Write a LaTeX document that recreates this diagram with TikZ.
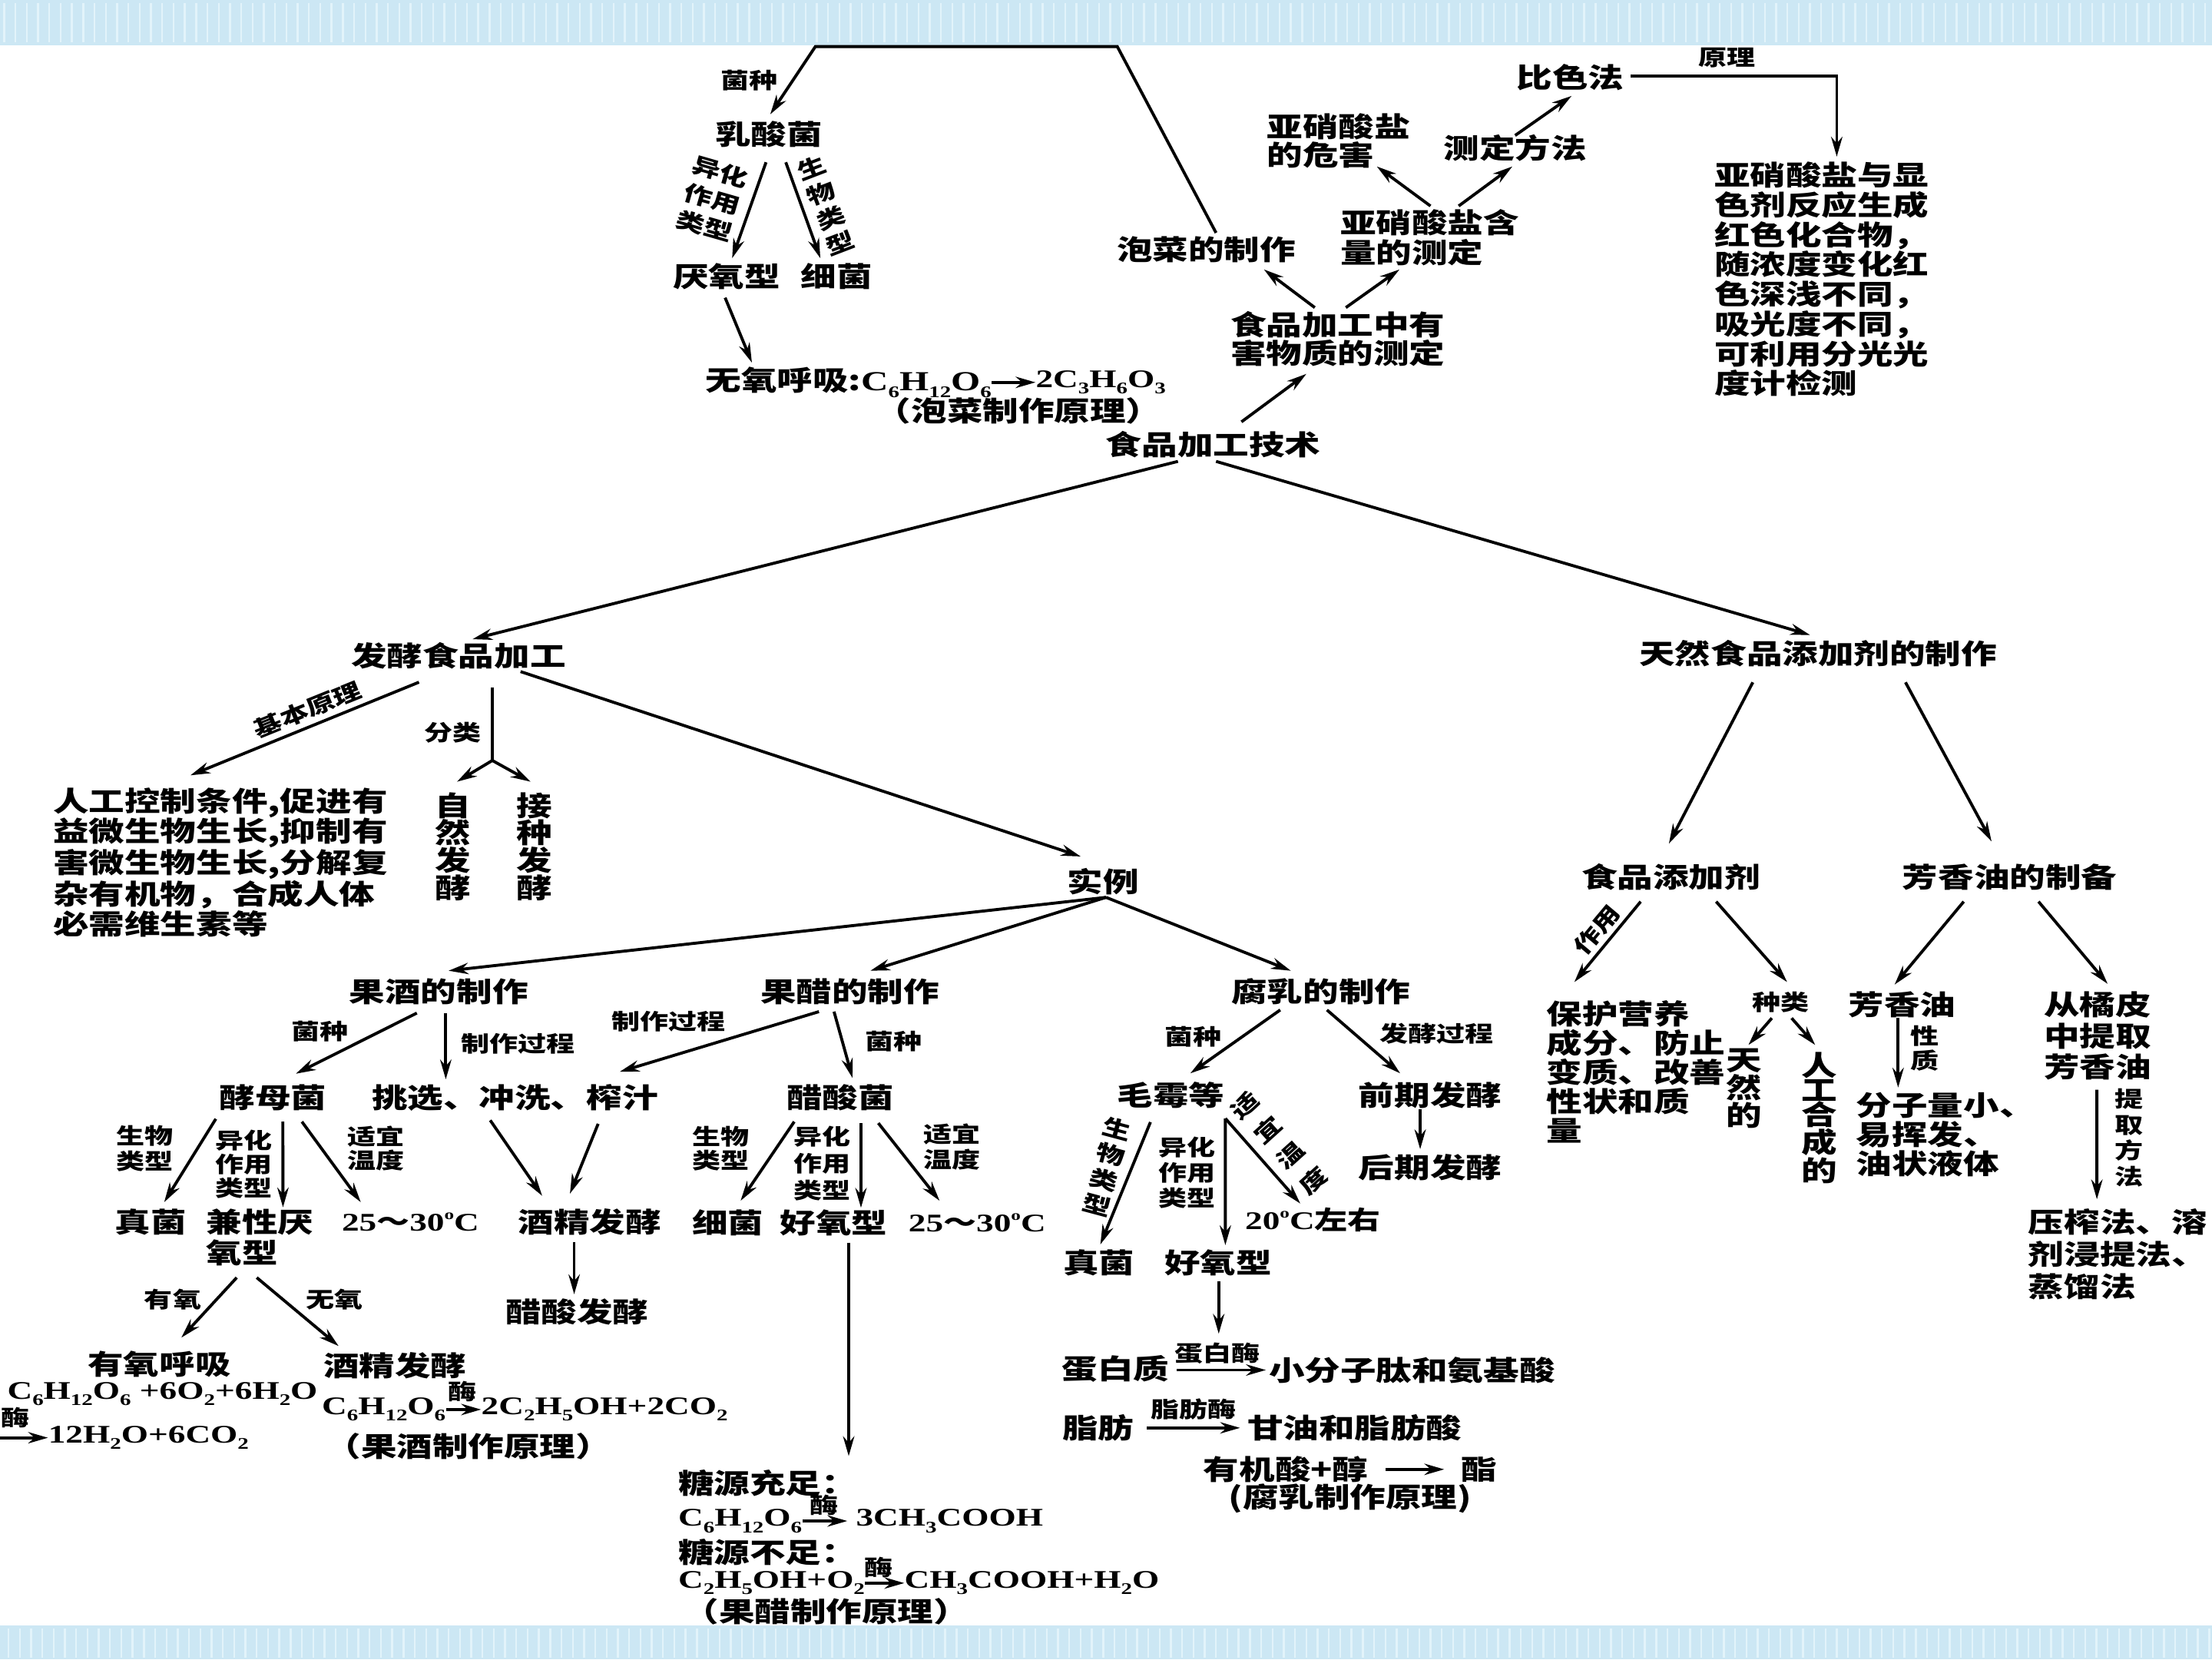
\documentclass[tikz,border=0pt]{standalone}
\usepackage{fontspec}
\setmainfont{Noto Sans CJK SC}[FakeStretch=1.3]
\newfontfamily\lat{Liberation Serif}[FakeStretch=1.37]
\usetikzlibrary{arrows.meta,calc}
\definecolor{band}{RGB}{204,231,244}
\definecolor{bandlt}{RGB}{226,243,250}
\newcommand\dn[1]{\raisebox{-0.25em}{\fontsize{11.5}{11.5}\selectfont #1}}
\newcommand\degC{\raisebox{0.45em}{\fontsize{10}{10}\selectfont o}C}
\tikzset{
  m/.style={font=\bfseries\fontsize{19.5}{#1}\selectfont, inner sep=0pt, align=left},
  m/.default=21,
  s/.style={font=\bfseries\fontsize{15.5}{#1}\selectfont, inner sep=0pt, align=center},
  s/.default=17,
  lt/.style={font=\lat\bfseries\fontsize{18}{21}\selectfont, inner sep=0pt},
  arr/.style={line width=2.1pt, -{Stealth[length=14pt,width=8pt]}},
  ln/.style={line width=2.1pt},
  streak/.style={line width=1.3pt, bandlt},
}
\begin{document}
\begin{tikzpicture}[x=1pt,y=-1pt]
\useasboundingbox (0,0) rectangle (1568,1176);
\fill[white] (0,0) rectangle (1568,1176);
\fill[band] (0,0) rectangle (1568,32);
\fill[band] (0,1152) rectangle (1568,1176);
\foreach \i in {3,11,...,1563} {
  \draw[streak] (\i,2) -- (\i,30);
  \draw[streak] (\i+3,1154) -- (\i+3,1175);
}

% ---------- top left ----------
\node[s] (jz1) at (531,57) {菌种};
\node[m] (rsj) at (545,95) {乳酸菌};
\node[s=20, rotate=-16] (yh1) at (505,141) {异化\\作用\\类型};
\node[s=19, rotate=21] (sw1) at (585.5,145.5) {生\\物\\类\\型};
\node[m] (yx) at (515,196) {厌氧型};
\node[m] (xj1) at (593,196) {细菌};
\node[m, anchor=east] (wy) at (703,271) {无氧呼吸:{\lat C\dn{6}H\dn{12}O\dn{6}}};
\node[lt, anchor=west] (wyr) at (734,271) {2C\dn{3}H\dn{6}O\dn{3}};
\node[m] (pcyl) at (722,291) {（泡菜制作原理）};

% ---------- top right ----------
\node[m] (pczz) at (855,177) {泡菜的制作};
\node[m=21, anchor=west] (yxhl) at (950,168.5) {亚硝酸盐含\\量的测定};
\node[m=20, anchor=west] (spjg) at (872,240) {食品加工中有\\害物质的测定};
\node[m=20, anchor=west] (yxwh) at (898,100) {亚硝酸盐\\的危害};
\node[m] (cdff) at (1074,105) {测定方法};
\node[m] (bsf) at (1113,55) {比色法};
\node[s] (yl1) at (1224,41) {原理};
\node[m=21.1, anchor=west] (yxbox) at (1215,198) {亚硝酸盐与显\\色剂反应生成\\红色化合物，\\随浓度变化红\\色深浅不同，\\吸光度不同，\\可利用分光光\\度计检测};
\node[m] (spjgjs) at (860,315) {食品加工技术};

\coordinate (ctl) at (578,33);
\coordinate (ctr) at (792,33);
\draw[arr] ([shift={(7,-12)}]pczz.center) -- (ctr) -- (ctl) -- ([shift={(1,-14)}]rsj.center);
\draw[arr] ([shift={(-2,20)}]rsj.center) -- ([shift={(4,-13)}]yx.center);
\draw[arr] ([shift={(12,20)}]rsj.center) -- ([shift={(-11.5,-13)}]xj1.center);
\draw[arr] ([shift={(-1,15)}]yx.center) -- ([shift={(-170,-14)}]wy.east);
\draw[arr] (wy.east) -- (wyr.west);
\draw[arr] ([shift={(20,-16)}]spjgjs.center) -- ([shift={(54,25)}]spjg.west);
\draw[arr] ([shift={(60,-22)}]spjg.west) -- ([shift={(41,14)}]pczz.center);
\draw[arr] ([shift={(82,-22)}]spjg.west) -- ([shift={(42,22.5)}]yxhl.west);
\draw[arr] ([shift={(64,-22.5)}]yxhl.west) -- ([shift={(78,18)}]yxwh.west);
\draw[arr] ([shift={(84,-22.5)}]yxhl.west) -- ([shift={(-2,13)}]cdff.center);
\draw[arr] ([shift={(0,-9)}]cdff.center) -- ([shift={(1,13)}]bsf.center);
\draw[arr] ([shift={(43,-1)}]bsf.center) -| ([shift={(87,-87)}]yxbox.west);

% ---------- middle ----------
\node[m] (fx) at (325,465) {发酵食品加工};
\node[m] (trtj) at (1288.8,463) {天然食品添加剂的制作};
\draw[arr] ([shift={(-25,12)}]spjgjs.center) -- ([shift={(10,-12)}]fx.center);
\draw[arr] ([shift={(2,12)}]spjgjs.center) -- ([shift={(-5.8,-13)}]trtj.center);

\node[m=21.2, anchor=west] (rgkz) at (37.5,611.5) {人工控制条件,促进有\\益微生物生长,抑制有\\害微生物生长,分解复\\杂有机物，合成人体\\必需维生素等};
\node[s, rotate=22] (jbyl) at (218,503) {基本原理};
\draw[arr] ([shift={(-28,18.5)}]fx.center) -- ([shift={(97.5,-62)}]rgkz.west);
\node[s] (fl) at (321,519) {分类};
\node[m=19.4, align=center] (zrfj) at (321,600) {自\\然\\发\\酵};
\node[m=19.4, align=center] (jzfj) at (379,600) {接\\种\\发\\酵};
\coordinate (fork) at (349,539);
\draw[ln] ([shift={(24,22)}]fx.center) -- (fork);
\draw[arr] (fork) -- ([shift={(3,-46)}]zrfj.center);
\draw[arr] (fork) -- ([shift={(-3,-46)}]jzfj.center);

\node[m] (sl) at (782,625) {实例};
\draw[arr] ([shift={(44,11)}]fx.center) -- ([shift={(-16,-18)}]sl.center);

% ---------- fruit wine ----------
\node[m] (gj) at (311,703) {果酒的制作};
\node[m] (gc) at (602.5,703) {果醋的制作};
\node[m] (fr) at (936.3,703) {腐乳的制作};
\draw[arr] ([shift={(2,11)}]sl.center) -- ([shift={(7,-15)}]gj.center);
\draw[arr] ([shift={(2,11)}]sl.center) -- ([shift={(14.5,-15)}]gc.center);
\draw[arr] ([shift={(2,11)}]sl.center) -- ([shift={(-21.3,-15)}]fr.center);

\node[s] (jz2) at (226.6,731) {菌种};
\node[s] (zzgc1) at (367.4,740) {制作过程};
\node[m] (jmj) at (193.5,778) {酵母菌};
\node[m] (tx) at (365,778) {挑选、冲洗、榨汁};
\draw[arr] ([shift={(-15.5,15)}]gj.center) -- ([shift={(16.2,-17)}]jmj.center);
\draw[arr] ([shift={(5,15)}]gj.center) -- ([shift={(-49,-13)}]tx.center);

\node[s=17.6] (sw2) at (102.6,814) {生物\\类型};
\node[s=17] (yh2) at (173,825) {异化\\作用\\类型};
\node[s=17] (sy2) at (266.4,814) {适宜\\温度};
\node[m] (zj) at (107,866) {真菌};
\node[m=22, anchor=west] (jx) at (146,877) {兼性厌\\氧型};
\node[lt] (t1) at (291,866) {25{\rmfamily ～}30\degC};
\node[m] (jj1) at (418,866) {酒精发酵};
\draw[arr] ([shift={(-40.5,15)}]jmj.center) -- ([shift={(9.4,-14)}]zj.center);
\draw[arr] ([shift={(7,17)}]jmj.center) -- ([shift={(54.6,-21.3)}]jx.west);
\draw[arr] ([shift={(20.5,17)}]jmj.center) -- ([shift={(-35.3,-14)}]t1.center);
\draw[arr] ([shift={(-17.5,16)}]tx.center) -- ([shift={(-33.7,-18.5)}]jj1.center);
\draw[arr] ([shift={(59,18.5)}]tx.center) -- ([shift={(-14,-20)}]jj1.center);
\node[m] (cs) at (409,930) {醋酸发酵};
\draw[arr] ([shift={(-11,14.6)}]jj1.center) -- ([shift={(-2,-12.7)}]cs.center);

\node[s] (yy) at (122.5,921) {有氧};
\node[s] (wy2) at (237,921) {无氧};
\node[m] (yyhx) at (113,967) {有氧呼吸};
\node[m] (jj2) at (280,968) {酒精发酵};
\draw[arr] ([shift={(21.8,28.5)}]jx.west) -- ([shift={(15.6,-19)}]yyhx.center);
\draw[arr] ([shift={(36,28.5)}]jx.west) -- ([shift={(-40,-14)}]jj2.center);

\node[lt, anchor=west] (f1) at (5,988) {C\dn{6}H\dn{12}O\dn{6} +6O\dn{2}+6H\dn{2}O};
\node[s] (mei1) at (11,1005) {酶};
\coordinate (cf1) at (0,1019);
\node[lt, anchor=west] (f1b) at (34,1019) {12H\dn{2}O+6CO\dn{2}};
\draw[arr] (cf1) -- (f1b.west);
\node[lt, anchor=west] (f2a) at (228,999) {C\dn{6}H\dn{12}O\dn{6}};
\node[lt, anchor=west] (f2b) at (341,999) {2C\dn{2}H\dn{5}OH+2CO\dn{2}};
\node[s] (mei2) at (327.6,986) {酶};
\draw[arr] (f2a.east) -- (f2b.west);
\node[m] (gjyl) at (332,1025) {（果酒制作原理）};

% ---------- fruit vinegar ----------
\node[s] (zzgc2) at (474,724) {制作过程};
\node[s] (jz3) at (633.6,738) {菌种};
\node[m] (csj) at (595.6,778) {醋酸菌};
\draw[arr] ([shift={(-22,14)}]gc.center) -- ([shift={(74.3,-18.4)}]tx.center);
\draw[arr] ([shift={(-11.3,14)}]gc.center) -- ([shift={(8.7,-14)}]csj.center);
\node[s=16.5] (sw3) at (511,814) {生物\\类型};
\node[s=19] (yh3) at (582.6,824.7) {异化\\作用\\类型};
\node[s=18] (sy3) at (674.8,813) {适宜\\温度};
\node[m] (xj2) at (516,866.7) {细菌};
\node[m] (hy1) at (591,866.7) {好氧型};
\node[lt] (t2) at (692.7,866.7) {25{\rmfamily ～}30\degC};
\draw[arr] ([shift={(-32.6,17)}]csj.center) -- ([shift={(9,-15.7)}]xj2.center);
\draw[arr] ([shift={(14.7,18)}]csj.center) -- ([shift={(19.3,-10.7)}]hy1.center);
\draw[arr] ([shift={(27,18)}]csj.center) -- ([shift={(-26.7,-15.7)}]t2.center);

\node[m, anchor=west] (tyzz) at (480.6,1051) {糖源充足：};
\draw[arr] ([shift={(10.6,14)}]hy1.center) -- ([shift={(121,-19)}]tyzz.west);
\node[lt, anchor=west] (f3a) at (480.6,1078) {C\dn{6}H\dn{12}O\dn{6}};
\node[lt, anchor=west] (f3b) at (606.6,1078) {3CH\dn{3}COOH};
\node[s] (mei3) at (584,1067) {酶};
\draw[arr] (f3a.east) -- ([shift={(-6,0)}]f3b.west);
\node[m, anchor=west] (tybz) at (480.6,1100) {糖源不足：};
\node[lt, anchor=west] (f4a) at (480.6,1122) {C\dn{2}H\dn{5}OH+O\dn{2}};
\node[lt, anchor=west] (f4b) at (641,1122) {CH\dn{3}COOH+H\dn{2}O};
\node[s] (mei4) at (622.6,1111) {酶};
\draw[arr] (f4a.east) -- (f4b.west);
\node[m] (gcyl) at (585.7,1142) {（果醋制作原理）};

% ---------- sufu ----------
\node[s] (jz4) at (846,735) {菌种};
\node[s] (fjgc) at (1018.5,732.5) {发酵过程};
\node[m] (mm) at (830,776) {毛霉等};
\node[m] (qq) at (1013.8,776) {前期发酵};
\node[m] (hq) at (1013.8,827.4) {后期发酵};
\draw[arr] ([shift={(-28.8,12.8)}]fr.center) -- ([shift={(13.8,-15.3)}]mm.center);
\draw[arr] ([shift={(4.3,12.8)}]fr.center) -- ([shift={(-21.3,-15.3)}]qq.center);
\draw[arr] ([shift={(-7.1,10.3)}]qq.center) -- ([shift={(-7.1,-12.9)}]hq.center);

\node[s=18.5, rotate=-15] (sw4) at (784.8,827) {生\\物\\类\\型};
\node[s=18] (yh4) at (841.4,831) {异化\\作用\\类型};
\node[s=24, rotate=42] (sy4) at (906.7,810) {适\\宜\\温\\度};
\node[m] (zj2) at (779,895) {真菌};
\node[m] (hy2) at (863.4,895) {好氧型};
\node[lt] (t3) at (930.7,864.5) {20\degC{\rmfamily 左右}};
\draw[arr] ([shift={(-14.5,19.3)}]mm.center) -- ([shift={(1,-13)}]zj2.center);
\draw[arr] ([shift={(38.6,16.7)}]mm.center) -- ([shift={(5.2,-12.5)}]hy2.center);
\draw[arr] ([shift={(38.6,16.7)}]mm.center) -- ([shift={(-9,-11.5)}]t3.center);

\node[m] (dbz) at (790.8,970) {蛋白质};
\node[m, anchor=west] (xfz) at (899.3,971) {小分子肽和氨基酸};
\node[s] (dbm) at (862.7,959.4) {蛋白酶};
\draw[arr] ([shift={(0.5,13)}]hy2.center) -- ([shift={(1.2,-14.1)}]dbm.center);
\draw[arr] ([shift={(5,1)}]dbz.east) -- ([shift={(-2,0)}]xfz.west);
\node[m] (zf) at (778.4,1012) {脂肪};
\node[m, anchor=west] (gy) at (884,1012) {甘油和脂肪酸};
\node[s] (zfm) at (846,999) {脂肪酶};
\draw[arr] ([shift={(9,0)}]zf.east) -- ([shift={(-5,0)}]gy.west);
\node[m] (yjs) at (911.5,1041.4) {有机酸+醇};
\node[m] (zhi) at (1048.6,1041.4) {酯};
\draw[arr] ([shift={(12,0)}]yjs.east) -- ([shift={(-12,0)}]zhi.west);
\node[m] (fryl) at (957,1062) {(腐乳制作原理)};

% ---------- additives ----------
\node[m] (spt) at (1184.5,621.7) {食品添加剂};
\node[m] (fxy) at (1424.6,621.7) {芳香油的制备};
\draw[arr] ([shift={(-46.3,20.6)}]trtj.center) -- ([shift={(-1.5,-23.8)}]spt.center);
\draw[arr] ([shift={(61.9,20.6)}]trtj.center) -- ([shift={(-12.9,-25.4)}]fxy.center);

\node[m=20.6, anchor=west] (bh) at (1096,759.7) {保护营养\\成分、防止\\变质、改善\\性状和质\\量};
\node[s, rotate=50] (zy) at (1132,659) {作用};
\draw[arr] ([shift={(-21.5,17.3)}]spt.center) -- ([shift={(20,-63.7)}]bh.west);
\node[s] (zl) at (1262.3,710.5) {种类};
\draw[arr] ([shift={(32,17.3)}]spt.center) -- ([shift={(4.5,-14.5)}]zl.center);
\node[m=17.5, align=center] (trd) at (1236.4,771.6) {天\\然\\的};
\node[m=17.5, align=center] (rg) at (1289.7,792.2) {人\\工\\合\\成\\的};
\draw[arr] ([shift={(-6.3,11.1)}]zl.center) -- ([shift={(3,-31)}]trd.center);
\draw[arr] ([shift={(7.7,11.1)}]zl.center) -- ([shift={(-3,-51.6)}]rg.center);

\node[m] (fxyo) at (1348.4,712) {芳香油};
\node[m=22, align=center] (cjp) at (1487,734.3) {从橘皮\\中提取\\芳香油};
\draw[arr] ([shift={(-32.6,17.3)}]fxy.center) -- ([shift={(-5.4,-14.2)}]fxyo.center);
\draw[arr] ([shift={(20.4,17.3)}]fxy.center) -- ([shift={(7,-37)}]cjp.center);
\node[s=17.4] (xz) at (1364.4,743) {性\\质};
\node[m=20.6, anchor=west] (fzl) at (1315.6,804) {分子量小、\\易挥发、\\油状液体};
\draw[arr] ([shift={(-2.9,9.6)}]fxyo.center) -- ([shift={(29.9,-33.2)}]fzl.west);
\node[s=18.4] (tqff) at (1509,806.4) {提\\取\\方\\法};
\node[m=23, anchor=west] (yzf) at (1437.6,889) {压榨法、溶\\剂浸提法、\\蒸馏法};
\draw[arr] ([shift={(-0.6,38.1)}]cjp.center) -- ([shift={(48.8,-39)}]yzf.west);
\end{tikzpicture}
\end{document}
